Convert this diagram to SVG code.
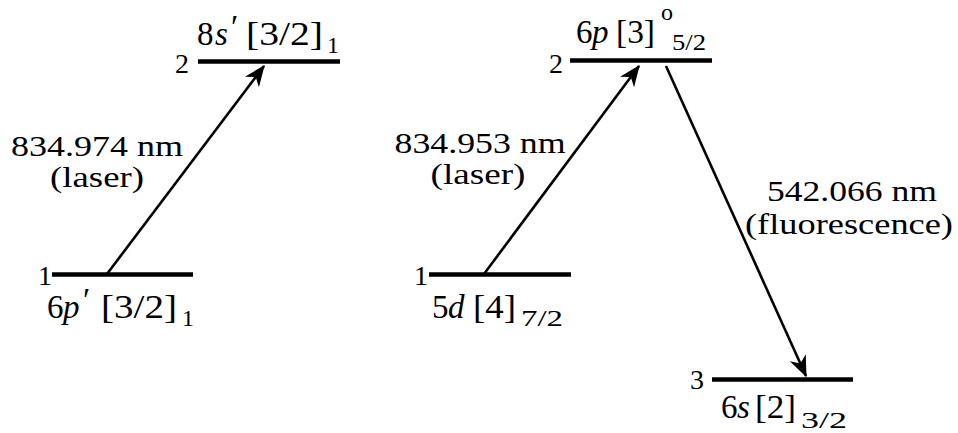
<svg xmlns="http://www.w3.org/2000/svg" width="958" height="433" viewBox="0 0 958 433" font-family="'Liberation Serif', 'Times New Roman', 'DejaVu Serif', serif">
<style>
text{fill:#000;font-family:'Liberation Serif','Times New Roman',serif}
.lv{stroke:#000;stroke-width:4.5;fill:none}
.ar{stroke:#000;stroke-width:2.6;fill:none}
.m{font-size:33px}
.s{font-size:24px}
.n{font-size:28px}
.i{font-style:italic}
.w{font-size:29px}
</style>
<defs>
<marker id="ah" markerUnits="userSpaceOnUse" markerWidth="30" markerHeight="30" viewBox="-20 -10 24 20" refX="0" refY="0" orient="auto">
<path d="M1,0 L-16,-7 L-11,0 L-16,7 Z" fill="#000"/>
</marker>
</defs>
<rect width="958" height="433" fill="#fff"/>
<g id="connectors">
<line class="ar" x1="107" y1="274" x2="264" y2="66" marker-end="url(#ah)"/>
<line class="ar" x1="484" y1="274" x2="639" y2="66" marker-end="url(#ah)"/>
<line class="ar" x1="666" y1="66" x2="806" y2="376" marker-end="url(#ah)"/>
<text class="w" x="97" y="156" text-anchor="middle" textLength="172" lengthAdjust="spacingAndGlyphs">834.974 nm</text>
<text class="w" x="97" y="187" text-anchor="middle" textLength="94" lengthAdjust="spacingAndGlyphs">(laser)</text>
<text class="w" x="480" y="153" text-anchor="middle" textLength="171" lengthAdjust="spacingAndGlyphs">834.953 nm</text>
<text class="w" x="478" y="184" text-anchor="middle" textLength="95" lengthAdjust="spacingAndGlyphs">(laser)</text>
<text class="w" x="852" y="201" text-anchor="middle" textLength="170" lengthAdjust="spacingAndGlyphs">542.066 nm</text>
<text class="w" x="849" y="234" text-anchor="middle" textLength="208" lengthAdjust="spacingAndGlyphs">(fluorescence)</text>
</g>
<g id="L-level2">
<line class="lv" x1="198" y1="61.5" x2="340" y2="61.5"/>
<text class="n" x="175" y="73">2</text>
<text class="m" x="197" y="45">8</text>
<text class="m i" x="215" y="45">s</text>
<text class="m" x="231" y="38">′</text>
<text class="m" x="246" y="45" textLength="77" lengthAdjust="spacingAndGlyphs">[3/2]</text>
<text class="s" x="327" y="53">1</text>
</g>
<g id="L-level1">
<line class="lv" x1="52" y1="274.5" x2="193" y2="274.5"/>
<text class="n" x="38" y="285">1</text>
<text class="m" x="47" y="318">6</text>
<text class="m i" x="63" y="318">p</text>
<text class="m" x="83" y="311">′</text>
<text class="m" x="101" y="318" textLength="76" lengthAdjust="spacingAndGlyphs">[3/2]</text>
<text class="s" x="182" y="326">1</text>
</g>
<g id="R-level2">
<line class="lv" x1="570" y1="60.5" x2="712" y2="60.5"/>
<text class="n" x="549" y="73">2</text>
<text class="m" x="576" y="43">6</text>
<text class="m i" x="592" y="43">p</text>
<text class="m" x="616" y="43" textLength="39" lengthAdjust="spacingAndGlyphs">[3]</text>
<text class="s" x="661" y="20">o</text>
<text class="s" x="672" y="50" textLength="34" lengthAdjust="spacingAndGlyphs">5/2</text>
</g>
<g id="R-level1">
<line class="lv" x1="429" y1="274.5" x2="571" y2="274.5"/>
<text class="n" x="414" y="285">1</text>
<text class="m" x="432" y="318">5</text>
<text class="m i" x="448" y="318">d</text>
<text class="m" x="473" y="318" textLength="43" lengthAdjust="spacingAndGlyphs">[4]</text>
<text class="s" x="521" y="326" textLength="42" lengthAdjust="spacingAndGlyphs">7/2</text>
</g>
<g id="R-level3">
<line class="lv" x1="712" y1="379.5" x2="853" y2="379.5"/>
<text class="n" x="690" y="389">3</text>
<text class="m" x="721" y="418">6</text>
<text class="m i" x="737" y="418">s</text>
<text class="m" x="755" y="418" textLength="41" lengthAdjust="spacingAndGlyphs">[2]</text>
<text class="s" x="801" y="428" textLength="46" lengthAdjust="spacingAndGlyphs">3/2</text>
</g>
</svg>
